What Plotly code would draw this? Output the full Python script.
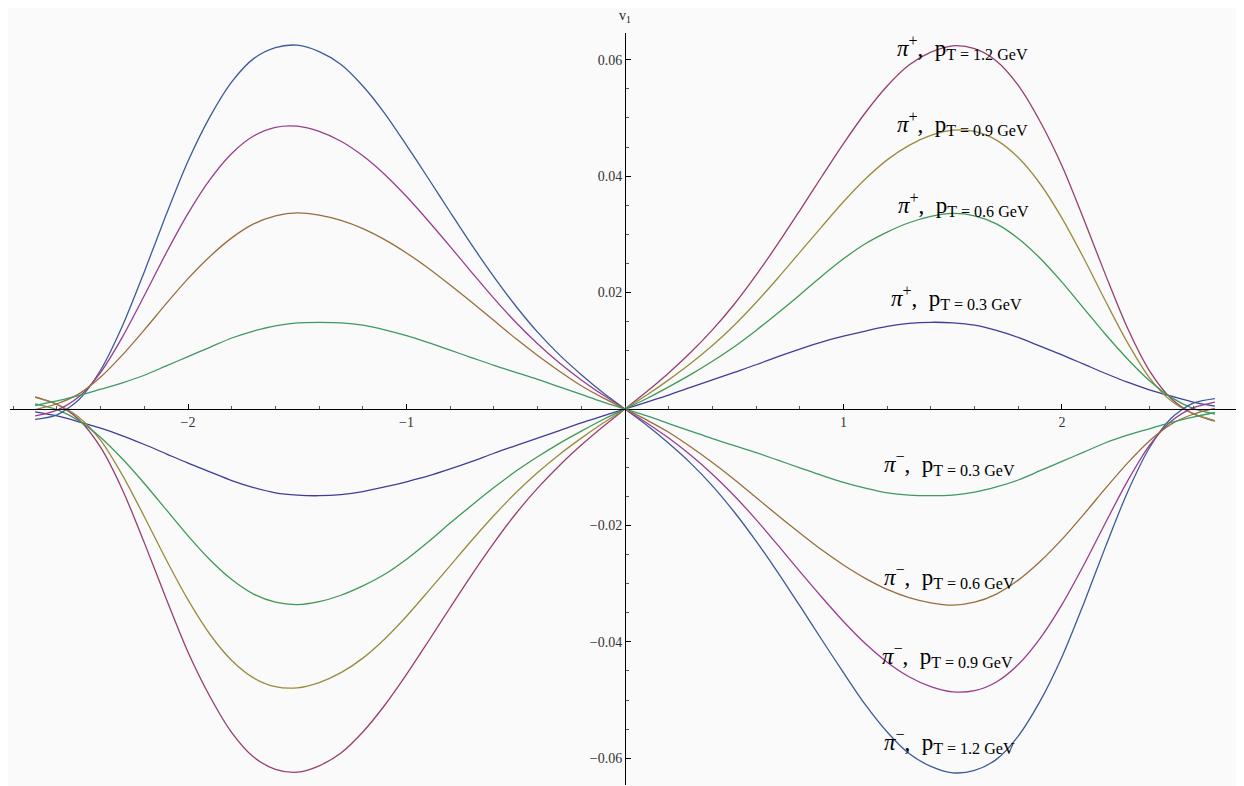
import plotly.graph_objects as go

# pseudorapidity grid
eta = [-2.7, -2.6, -2.5, -2.4, -2.3, -2.2, -2.1, -2.0, -1.9, -1.8, -1.7, -1.6, -1.5, -1.4,
       -1.3, -1.2, -1.1, -1.0, -0.9, -0.8, -0.7, -0.6, -0.5, -0.4, -0.3, -0.2, -0.1,
       0.0,
       0.1, 0.2, 0.3, 0.4, 0.5, 0.6, 0.7, 0.8, 0.9, 1.0, 1.1, 1.2, 1.3,
       1.4, 1.5, 1.6, 1.7, 1.8, 1.9, 2.0, 2.1, 2.2, 2.3, 2.4, 2.5, 2.6, 2.7]

# pi+ curves (v1 values)
v1_pip_03 = [-0.0005, -0.0012, -0.0022, -0.0033, -0.0046, -0.0061, -0.0077, -0.0093, -0.0108, -0.0123, -0.0135, -0.0144, -0.0148, -0.0149,
             -0.0147, -0.0142, -0.0134, -0.0125, -0.0115, -0.0103, -0.0090, -0.0076, -0.0063, -0.0050, -0.0037, -0.0024, -0.0012,
             0.0,
             0.0012, 0.0024, 0.0037, 0.0050, 0.0063, 0.0076, 0.0090, 0.0103, 0.0115, 0.0125, 0.0134, 0.0142, 0.0147,
             0.0149, 0.0148, 0.0144, 0.0135, 0.0123, 0.0108, 0.0093, 0.0077, 0.0061, 0.0046, 0.0033, 0.0022, 0.0012, 0.0005]
v1_pip_12 = [0.0021, 0.0008, -0.0018, -0.0066, -0.0139, -0.0230, -0.0326, -0.0418, -0.0494, -0.0556, -0.0598, -0.0619, -0.0624, -0.0613,
             -0.0591, -0.0555, -0.0509, -0.0456, -0.0399, -0.0341, -0.0284, -0.0230, -0.0180, -0.0136, -0.0097, -0.0062, -0.0030,
             0.0,
             0.0030, 0.0062, 0.0097, 0.0136, 0.0180, 0.0230, 0.0284, 0.0341, 0.0399, 0.0456, 0.0509, 0.0555, 0.0591,
             0.0613, 0.0624, 0.0619, 0.0598, 0.0556, 0.0494, 0.0418, 0.0326, 0.0230, 0.0139, 0.0066, 0.0018, -0.0008, -0.0021]
v1_pip_09 = [0.0020, 0.0008, -0.0014, -0.0054, -0.0114, -0.0185, -0.0259, -0.0328, -0.0387, -0.0432, -0.0462, -0.0477, -0.0479, -0.0470,
             -0.0453, -0.0428, -0.0395, -0.0356, -0.0313, -0.0269, -0.0225, -0.0183, -0.0144, -0.0109, -0.0078, -0.0050, -0.0024,
             0.0,
             0.0024, 0.0050, 0.0078, 0.0109, 0.0144, 0.0183, 0.0225, 0.0269, 0.0313, 0.0356, 0.0395, 0.0428, 0.0453,
             0.0470, 0.0479, 0.0477, 0.0462, 0.0432, 0.0387, 0.0328, 0.0259, 0.0185, 0.0114, 0.0054, 0.0014, -0.0008, -0.0020]
v1_pip_06 = [0.0009, -0.0001, -0.0020, -0.0049, -0.0086, -0.0128, -0.0173, -0.0218, -0.0259, -0.0293, -0.0318, -0.0332, -0.0336, -0.0331,
             -0.0320, -0.0304, -0.0284, -0.0258, -0.0228, -0.0196, -0.0165, -0.0135, -0.0107, -0.0082, -0.0059, -0.0038, -0.0018,
             0.0,
             0.0018, 0.0038, 0.0059, 0.0082, 0.0107, 0.0135, 0.0165, 0.0196, 0.0228, 0.0258, 0.0284, 0.0304, 0.0320,
             0.0331, 0.0336, 0.0332, 0.0318, 0.0293, 0.0259, 0.0218, 0.0173, 0.0128, 0.0086, 0.0049, 0.0020, 0.0001, -0.0009]

# pi- curves (v1 values)
v1_pim_12 = [-0.0018, -0.0010, 0.0016, 0.0067, 0.0143, 0.0236, 0.0334, 0.0426, 0.0502, 0.0562, 0.0602, 0.0621, 0.0625, 0.0614,
             0.0592, 0.0555, 0.0508, 0.0453, 0.0396, 0.0338, 0.0281, 0.0227, 0.0177, 0.0132, 0.0093, 0.0059, 0.0028,
             0.0,
             -0.0028, -0.0059, -0.0093, -0.0132, -0.0177, -0.0227, -0.0281, -0.0338, -0.0396, -0.0453, -0.0508, -0.0555, -0.0592,
             -0.0614, -0.0625, -0.0621, -0.0602, -0.0562, -0.0502, -0.0426, -0.0334, -0.0236, -0.0143, -0.0067, -0.0016, 0.0010, 0.0018]
v1_pim_09 = [-0.0012, -0.0002, 0.0021, 0.0063, 0.0124, 0.0195, 0.0268, 0.0336, 0.0394, 0.0439, 0.0469, 0.0484, 0.0486, 0.0477,
             0.0460, 0.0435, 0.0403, 0.0365, 0.0323, 0.0279, 0.0234, 0.0190, 0.0149, 0.0112, 0.0079, 0.0050, 0.0024,
             0.0,
             -0.0024, -0.0050, -0.0079, -0.0112, -0.0149, -0.0190, -0.0234, -0.0279, -0.0323, -0.0365, -0.0403, -0.0435, -0.0460,
             -0.0477, -0.0486, -0.0484, -0.0469, -0.0439, -0.0394, -0.0336, -0.0268, -0.0195, -0.0124, -0.0063, -0.0021, 0.0002, 0.0012]
v1_pim_06 = [-0.0001, 0.0009, 0.0026, 0.0055, 0.0093, 0.0136, 0.0181, 0.0224, 0.0262, 0.0294, 0.0318, 0.0332, 0.0337, 0.0333,
             0.0324, 0.0310, 0.0291, 0.0268, 0.0242, 0.0213, 0.0183, 0.0152, 0.0121, 0.0092, 0.0065, 0.0040, 0.0019,
             0.0,
             -0.0019, -0.0040, -0.0065, -0.0092, -0.0121, -0.0152, -0.0183, -0.0213, -0.0242, -0.0268, -0.0291, -0.0310, -0.0324,
             -0.0333, -0.0337, -0.0332, -0.0318, -0.0294, -0.0262, -0.0224, -0.0181, -0.0136, -0.0093, -0.0055, -0.0026, -0.0009, 0.0001]
v1_pim_03 = [0.0006, 0.0014, 0.0023, 0.0034, 0.0045, 0.0058, 0.0074, 0.0090, 0.0106, 0.0122, 0.0134, 0.0143, 0.0148, 0.0149,
             0.0148, 0.0144, 0.0136, 0.0126, 0.0114, 0.0101, 0.0088, 0.0075, 0.0063, 0.0051, 0.0038, 0.0025, 0.0012,
             0.0,
             -0.0012, -0.0025, -0.0038, -0.0051, -0.0063, -0.0075, -0.0088, -0.0101, -0.0114, -0.0126, -0.0136, -0.0144, -0.0148,
             -0.0149, -0.0148, -0.0143, -0.0134, -0.0122, -0.0106, -0.0090, -0.0074, -0.0058, -0.0045, -0.0034, -0.0023, -0.0014, -0.0006]

series = [v1_pip_03, v1_pip_12, v1_pip_09, v1_pip_06, v1_pim_12, v1_pim_09, v1_pim_06, v1_pim_03]
colors = ["#3F3D99", "#993D71", "#998B3D", "#3D9956", "#3D5A99", "#993D90", "#996D3D", "#3D9965"]

label_texts = ["<i>π</i><sup>+</sup>,  p<sub>T = 1.2 GeV</sub>",
               "<i>π</i><sup>+</sup>,  p<sub>T = 0.9 GeV</sub>",
               "<i>π</i><sup>+</sup>,  p<sub>T = 0.6 GeV</sub>",
               "<i>π</i><sup>+</sup>,  p<sub>T = 0.3 GeV</sub>",
               "<i>π</i><sup>−</sup>,  p<sub>T = 0.3 GeV</sub>",
               "<i>π</i><sup>−</sup>,  p<sub>T = 0.6 GeV</sub>",
               "<i>π</i><sup>−</sup>,  p<sub>T = 0.9 GeV</sub>",
               "<i>π</i><sup>−</sup>,  p<sub>T = 1.2 GeV</sub>"]
label_x = [1.547, 1.547, 1.551, 1.519, 1.487, 1.487, 1.478, 1.487]
label_y = [0.0621, 0.0490, 0.0351, 0.0191, -0.0093, -0.0287, -0.0423, -0.0572]

x_ticks = [-2, -1, 1, 2]
x_ticktext = ["−2", "−1", "1", "2"]
y_ticks = [-0.06, -0.04, -0.02, 0.02, 0.04, 0.06]

fig = go.Figure()
for vals, col in zip(series, colors):
    fig.add_trace(go.Scatter(x=eta, y=vals, mode="lines",
                             line=dict(color=col, width=1.3, shape="spline", smoothing=0.8),
                             hoverinfo="skip"))

serif = "Liberation Serif, Times New Roman, serif"
for t, lx, ly in zip(label_texts, label_x, label_y):
    fig.add_annotation(x=lx, y=ly, xref="x", yref="y", text=t, showarrow=False,
                       xanchor="center", yanchor="middle",
                       font=dict(family=serif, size=23, color="black"))

fig.add_annotation(x=0.5, y=1.0, xref="paper", yref="paper", text="v<sub>1</sub>",
                   showarrow=False, xanchor="center", yanchor="bottom", yshift=6,
                   font=dict(family=serif, size=14, color="#222"))

# the page body adds an 8px offset, compensated in size/margins
fig.update_layout(
    width=1236, height=778,
    margin=dict(l=2, r=4, t=25, b=1),
    paper_bgcolor="#fafafa", plot_bgcolor="#fafafa",
    showlegend=False,
    xaxis=dict(range=[-2.815, 2.815], anchor="free", position=0.5, automargin=False,
               showline=True, linecolor="black", linewidth=1,
               showgrid=False, zeroline=False,
               tickmode="array", tickvals=x_ticks, ticktext=x_ticktext,
               ticks="inside", ticklen=5, tickwidth=1, tickcolor="black",
               tickfont=dict(family=serif, size=14, color="#333"),
               minor=dict(tickmode="linear", tick0=0, dtick=0.2, ticks="inside", ticklen=3,
                          tickwidth=1, tickcolor="#555", showgrid=False)),
    yaxis=dict(range=[-0.0646, 0.0646], anchor="free", position=0.5, automargin=False,
               showline=True, linecolor="black", linewidth=1,
               showgrid=False, zeroline=False,
               tickmode="array", tickvals=y_ticks, tickformat=".2f",
               ticks="inside", ticklen=5, tickwidth=1, tickcolor="black",
               tickfont=dict(family=serif, size=14, color="#333"),
               minor=dict(tickmode="linear", tick0=0, dtick=0.005, ticks="inside", ticklen=3,
                          tickwidth=1, tickcolor="#555", showgrid=False)),
)

fig.write_html("out.html")
